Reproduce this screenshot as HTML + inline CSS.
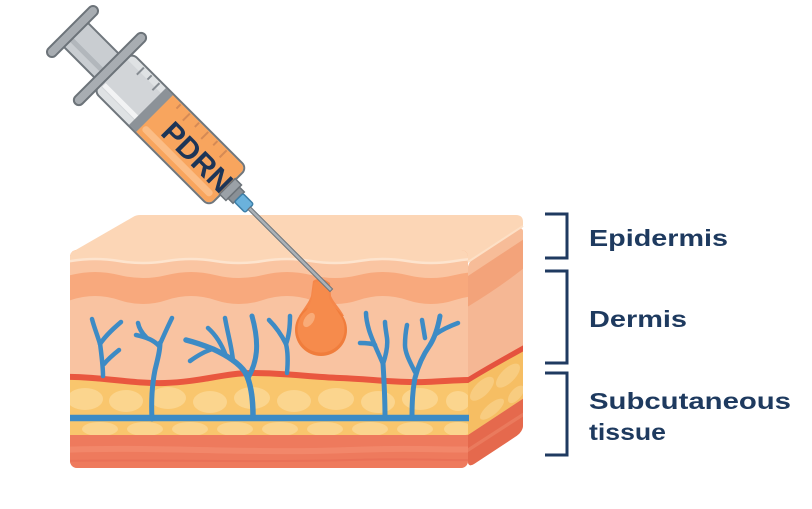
<!DOCTYPE html>
<html><head><meta charset="utf-8"><style>
html,body{margin:0;padding:0;background:#fff;}
svg{display:block;}
</style></head><body>
<svg width="812" height="509" viewBox="0 0 812 509" xmlns="http://www.w3.org/2000/svg">
<defs>
<clipPath id="front"><rect x="70" y="250" width="398" height="218" rx="7"/></clipPath>
<clipPath id="right"><rect x="468" y="262" width="55" height="206" rx="6"/></clipPath>
</defs>

<!-- top face -->
<path d="M70,262 L70,258 Q70,254 74,251 L133,217 Q136,215 140,215 L516,215 Q523,215 523,222 L523,226 L468,262 Z" fill="#fcd6b6"/>

<!-- front face -->
<g clip-path="url(#front)">
  <rect x="60" y="240" width="420" height="240" fill="#f9c3a1"/>
  <path d="M60,377 C100,376 130,384 165,383 C200,382 225,373 252,373 C285,373 310,377 340,378 C370,379 395,383 425,382 C445,381 460,380 470,380 L480,380 L480,436 L60,436 Z" fill="#f9c66d"/>
  <g fill="#fbd58e">
    <ellipse cx="85" cy="399" rx="18" ry="11"/>
    <ellipse cx="126" cy="401" rx="17" ry="11"/>
    <ellipse cx="168" cy="398" rx="18" ry="11"/>
    <ellipse cx="210" cy="402" rx="17" ry="11"/>
    <ellipse cx="252" cy="398" rx="18" ry="11"/>
    <ellipse cx="294" cy="401" rx="17" ry="11"/>
    <ellipse cx="336" cy="399" rx="18" ry="11"/>
    <ellipse cx="378" cy="402" rx="17" ry="11"/>
    <ellipse cx="420" cy="399" rx="18" ry="11"/>
    <ellipse cx="458" cy="401" rx="12" ry="10"/>
    <ellipse cx="100" cy="429" rx="18" ry="7"/>
    <ellipse cx="145" cy="429" rx="18" ry="7"/>
    <ellipse cx="190" cy="429" rx="18" ry="7"/>
    <ellipse cx="235" cy="429" rx="18" ry="7"/>
    <ellipse cx="280" cy="429" rx="18" ry="7"/>
    <ellipse cx="325" cy="429" rx="18" ry="7"/>
    <ellipse cx="370" cy="429" rx="18" ry="7"/>
    <ellipse cx="415" cy="429" rx="18" ry="7"/>
    <ellipse cx="458" cy="429" rx="14" ry="7"/>
  </g>
  <rect x="60" y="435" width="420" height="50" fill="#ee7a5d"/>
  <path d="M60,450 C150,446 250,454 350,450 C420,447 450,451 480,449" fill="none" stroke="#f2876a" stroke-width="6"/>
  <path d="M60,461 C150,459 250,463 350,460 C420,458 450,461 480,460" fill="none" stroke="#ea7157" stroke-width="2"/>
  <!-- wave bands -->
  <path d="M23,240 L23,300 q24,8 48,0 t48,0 t48,0 t48,0 t48,0 t48,0 t48,0 t48,0 t48,0 t48,0 L503,240 Z" fill="#f8a97d"/>
  <path d="M23,240 L23,275 q24,6 48,0 t48,0 t48,0 t48,0 t48,0 t48,0 t48,0 t48,0 t48,0 t48,0 L503,240 Z" fill="#fac5a2"/>
  <path d="M23,240 L23,261 q24,4 48,0 t48,0 t48,0 t48,0 t48,0 t48,0 t48,0 t48,0 t48,0 t48,0 L503,240 Z" fill="#fcd6b6"/>
  <path d="M23,261 q24,4 48,0 t48,0 t48,0 t48,0 t48,0 t48,0 t48,0 t48,0 t48,0 t48,0" fill="none" stroke="#fde4ce" stroke-width="2.5"/>
  <!-- red artery -->
  <path d="M60,377 C100,376 130,384 165,383 C200,382 225,373 252,373 C285,373 310,377 340,378 C370,379 395,383 425,382 C445,381 460,380 470,380" fill="none" stroke="#e9573f" stroke-width="6"/>
</g>

<!-- right face -->
<g transform="matrix(1,-0.66,0,1,0,308.9)">
  <g clip-path="url(#right)">
    <rect x="460" y="255" width="70" height="220" fill="#f5b794"/>
    <rect x="460" y="255" width="70" height="21" fill="#f7bc98"/>
    <path d="M460,276 L530,276 L530,304 Q500,309 460,306 Z" fill="#f3a37a"/>
    <rect x="460" y="382" width="70" height="53" fill="#f6be63"/>
    <g fill="#f8cc80">
      <ellipse cx="482" cy="398" rx="12" ry="9"/>
      <ellipse cx="508" cy="402" rx="12" ry="9"/>
      <ellipse cx="492" cy="425" rx="12" ry="7"/>
      <ellipse cx="516" cy="426" rx="8" ry="7"/>
    </g>
    <rect x="460" y="435" width="70" height="40" fill="#e5694d"/>
    <path d="M460,450 L530,451" stroke="#ea7a5d" stroke-width="4"/>
    <path d="M466,380 C490,381 505,383 526,385" fill="none" stroke="#e5523e" stroke-width="6"/>
  </g>
</g>
<path d="M523,226 L468,262" stroke="#fde0c6" stroke-width="2"/>

<!-- blue horizontal vein and branches -->
<g fill="none" stroke="#3d8bc5" stroke-width="4.5" stroke-linecap="round">
  <path d="M70,418 L469,418" stroke-width="6.5" stroke-linecap="butt"/>
  <path d="M103,376 C103,365 101,352 100,343"/>
  <path d="M100,344 C97,334 94,327 92,319"/>
  <path d="M100,344 C106,335 114,328 121,322"/>
  <path d="M104,364 C109,358 114,354 119,350"/>
  <path d="M152,419 C151,400 152,385 155,370 C158,358 160,350 160,343" stroke-width="5"/>
  <path d="M160,344 C164,335 168,326 172,318"/>
  <path d="M159,346 C154,340 146,337 136,335"/>
  <path d="M146,337 C142,333 139,328 138,323"/>
  <path d="M253,416 C253,398 251,383 245,372 C238,362 226,355 213,349 C203,345 194,342 186,340" stroke-width="5.5"/>
  <path d="M213,349 C205,351 197,356 190,361"/>
  <path d="M226,356 C222,345 217,336 208,328"/>
  <path d="M233,361 C232,348 228,335 225,318"/>
  <path d="M248,378 C257,362 260,345 252,316" stroke-width="5"/>
  <path d="M287,373 C288,362 288,352 286,344"/>
  <path d="M286,344 C282,336 276,327 269,320"/>
  <path d="M286,344 C289,336 290,326 290,316"/>
  <path d="M385,416 C385,398 384,380 383,363" stroke-width="5"/>
  <path d="M383,364 C378,352 372,340 369,330 C367,323 366,318 366,313"/>
  <path d="M375,345 C371,343 365,343 360,343"/>
  <path d="M383,364 C386,355 388,346 387,338 C386,331 385,326 385,322"/>
  <path d="M412,416 C412,400 413,388 415,378 C418,366 423,355 430,345 C435,337 438,327 440,316" stroke-width="5"/>
  <path d="M415,372 C410,362 405,353 405,345 C405,337 406,330 407,325"/>
  <path d="M436,334 C443,329 450,326 458,323"/>
  <path d="M425,338 C424,332 423,326 422,320"/>
</g>

<!-- drop -->
<path d="M313,281 Q321,276 330,283 L331,296 C334,303 340,308 344,316 L299,316 C304,308 309,302 311,296 Z" fill="#f5874a"/>
<circle cx="321" cy="330" r="26" fill="#f07d3c"/>
<circle cx="321" cy="329" r="23.5" fill="#f68b4c"/>
<path d="M314,283 Q321,279 328,284 L329,298 C332,305 337,309 340,316 L303,316 C307,309 311,304 312,297 Z" fill="#f68b4c"/>
<ellipse cx="309" cy="320" rx="4.5" ry="8" transform="rotate(35 309 320)" fill="#f9ab78"/>

<!-- syringe -->
<g transform="translate(72.5,31.5) rotate(45)">
  <rect x="2" y="-17" width="56" height="34" fill="#c9cdd1" stroke="#70777d" stroke-width="2"/>
  <rect x="4" y="4" width="52" height="5" fill="#b2b7bc"/>
  <rect x="57" y="-27" width="163" height="54" rx="7" fill="#dfe2e4"/>
  <rect x="58" y="-19" width="50" height="38" fill="#d2d5d8"/>
  <rect x="60" y="13" width="48" height="5" fill="#f2f3f4"/>
  <rect x="110" y="-26" width="109" height="52" rx="6" fill="#f8a55e"/>
  <rect x="118" y="14" width="96" height="7" rx="3" fill="#fbbd86"/>
  <rect x="106" y="-26" width="10" height="52" fill="#8c9298"/>
  <rect x="57" y="-27" width="163" height="54" rx="7" fill="none" stroke="#6f767c" stroke-width="2"/>
  <g stroke="#868c92" stroke-width="2">
    <line x1="76" y1="-25" x2="76" y2="-15"/>
    <line x1="87" y1="-25" x2="87" y2="-19"/>
    <line x1="98" y1="-25" x2="98" y2="-15"/>
  </g>
  <g stroke="#d58a55" stroke-width="2">
    <line x1="128" y1="-25" x2="128" y2="-19"/>
    <line x1="141" y1="-25" x2="141" y2="-15"/>
    <line x1="154" y1="-25" x2="154" y2="-19"/>
    <line x1="167" y1="-25" x2="167" y2="-15"/>
    <line x1="180" y1="-25" x2="180" y2="-19"/>
    <line x1="193" y1="-25" x2="193" y2="-15"/>
  </g>
  <rect x="48" y="-49" width="10" height="98" rx="5" fill="#a8adb2" stroke="#6c7379" stroke-width="2"/>
  <rect x="-5" y="-34" width="10" height="68" rx="5" fill="#a8adb2" stroke="#6c7379" stroke-width="2"/>
  <rect x="219" y="-11" width="9" height="22" fill="#9ba1a7" stroke="#6c7379" stroke-width="1.5"/>
  <rect x="228" y="-8" width="7" height="16" fill="#8a9096" stroke="#6c7379" stroke-width="1.5"/>
  <rect x="235" y="-6" width="15" height="12" rx="2" fill="#6bb2dc" stroke="#3d7fa8" stroke-width="1.5"/>
  <rect x="250" y="-1.8" width="116" height="3.6" fill="#aab1b7" stroke="#6b737a" stroke-width="1"/>
  <text x="177" y="11" text-anchor="middle" font-family="Liberation Sans, sans-serif" font-weight="bold" font-size="30" fill="#1d3557" textLength="86" lengthAdjust="spacingAndGlyphs">PDRN</text>
</g>

<!-- brackets -->
<g fill="none" stroke="#1f3a60" stroke-width="3">
  <path d="M545,214 H567 V258 H545"/>
  <path d="M545,271 H567 V363 H545"/>
  <path d="M545,373 H567 V455 H545"/>
</g>
<g font-family="Liberation Sans, sans-serif" font-weight="bold" font-size="23" fill="#1e3a5f">
  <text x="589" y="246" textLength="139" lengthAdjust="spacingAndGlyphs">Epidermis</text>
  <text x="589" y="327" textLength="98" lengthAdjust="spacingAndGlyphs">Dermis</text>
  <text x="589" y="409" textLength="202" lengthAdjust="spacingAndGlyphs">Subcutaneous</text>
  <text x="589" y="440" textLength="77" lengthAdjust="spacingAndGlyphs">tissue</text>
</g>
</svg>
</body></html>
